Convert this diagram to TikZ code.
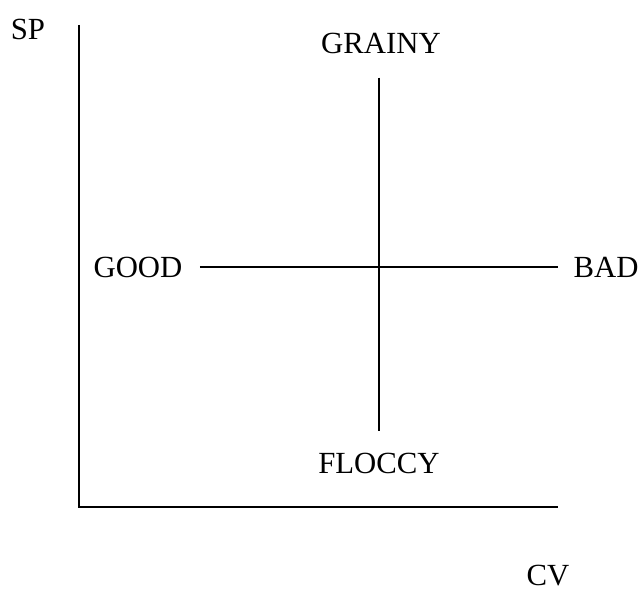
\documentclass[tikz,border=0pt]{standalone}
\usepackage{fontspec}
\setmainfont{Liberation Serif}
\begin{document}
\begin{tikzpicture}[x=0.02cm, y=-0.02cm,
    lbl/.style={inner sep=0pt, font=\fontsize{17.5}{20}\selectfont},
    axis/.style={line width=1.7pt},
    cross/.style={line width=0.8pt}]
  \useasboundingbox (0,0) rectangle (644,590);

  % ── Ejes ─────────────────────────────────────────────
  \coordinate (top)    at (79,25);
  \coordinate (origin) at (79,507);
  \coordinate (right)  at (558,507);
  \draw[axis] (top) -- (origin) -- (right);
  \node[lbl] (sp) at (28,29) {SP};
  \node[lbl] (cv) at (548,576) {CV};

  % ── Cruz central ─────────────────────────────────────
  \node[lbl] (grainy) at (381,43)  {GRAINY};
  \node[lbl] (floccy) at (379,463) {FLOCCY};
  \node[lbl] (good)   at (138,267) {GOOD};
  \node[lbl] (bad)    at (606,267) {BAD};

  \draw[cross, shorten <=0.34cm, shorten >=0.3cm] (good) -- (bad);
  \draw[cross, shorten <=0.48cm, shorten >=0.42cm]
    (floccy.north |- grainy.south) -- (floccy.north);
\end{tikzpicture}
\end{document}
